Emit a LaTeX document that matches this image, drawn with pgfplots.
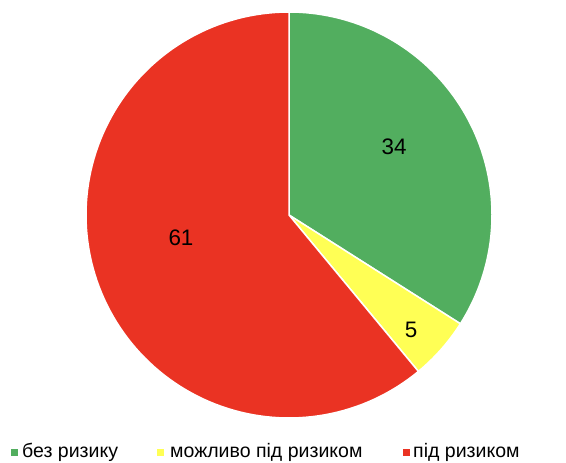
\documentclass[border=0pt]{standalone}
\usepackage{pgfplots}
\pgfplotsset{compat=1.18}
\usepackage{fontspec}
\setmainfont{Liberation Sans}
\definecolor{cgreen}{RGB}{82,174,95}
\definecolor{cyellow}{RGB}{255,255,85}
\definecolor{cred}{RGB}{234,51,35}
% values (percent)
\def\va{34}\def\vb{5}\def\vc{61}
\begin{document}
\begin{tikzpicture}
\begin{axis}[
  scale only axis, width=566bp, height=461bp,
  xmin=0, xmax=566, ymin=0, ymax=461,
  axis lines=none, clip=false,
]
\path (axis cs:0,0) rectangle (axis cs:566,461);
\pgfmathsetmacro{\aA}{90}
\pgfmathsetmacro{\aB}{90-3.6*\va}
\pgfmathsetmacro{\aC}{\aB-3.6*\vb}
\pgfmathsetmacro{\aD}{\aC-3.6*\vc}
\addplot[fill=cgreen, draw=white, line width=1.5pt, line join=round, domain=\aB:\aA, samples=80, variable=\t]
  ({289+203*cos(t)}, {246+203*sin(t)}) -- (axis cs:289,246) -- cycle;
\addplot[fill=cyellow, draw=white, line width=1.5pt, line join=round, domain=\aC:\aB, samples=20, variable=\t]
  ({289+203*cos(t)}, {246+203*sin(t)}) -- (axis cs:289,246) -- cycle;
\addplot[fill=cred, draw=white, line width=1.5pt, line join=round, domain=\aD:\aC, samples=120, variable=\t]
  ({289+203*cos(t)}, {246+203*sin(t)}) -- (axis cs:289,246) -- cycle;
\node[font=\fontsize{22.5}{24}\selectfont] at (axis cs:394,314) {34};
\node[font=\fontsize{22.5}{24}\selectfont] at (axis cs:411,131) {5};
\node[font=\fontsize{22.5}{24}\selectfont] at (axis cs:181,223) {61};
% legend
\fill[cgreen] (axis cs:11,5) rectangle (axis cs:18,12);
\node[anchor=base west, inner sep=0, font=\fontsize{19.6}{21}\selectfont] at (axis cs:22,3) {без ризику};
\fill[cyellow] (axis cs:157,5) rectangle (axis cs:164,12);
\node[anchor=base west, inner sep=0, font=\fontsize{19.6}{21}\selectfont] at (axis cs:170,3) {можливо під ризиком};
\fill[cred] (axis cs:403,5) rectangle (axis cs:410,12);
\node[anchor=base west, inner sep=0, font=\fontsize{19.6}{21}\selectfont] at (axis cs:413,3) {під ризиком};
\end{axis}
\end{tikzpicture}
\end{document}
